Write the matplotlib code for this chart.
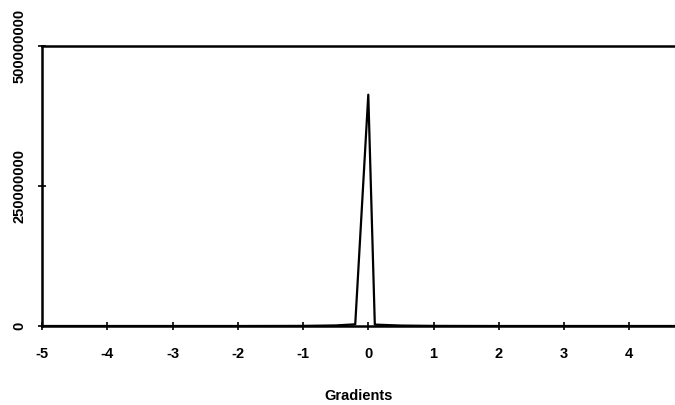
import matplotlib
matplotlib.use('Agg')
import matplotlib.pyplot as plt

plt.rcParams['font.family'] = ['Liberation Sans', 'DejaVu Sans']

# gradient histogram
gradients = [-5, -4, -3, -2, -1, -0.5, -0.2, 0, 0.1, 0.5, 1, 2, 3, 4, 4.7]
counts = [0, 0, 0, 0, 2e5, 1e6, 3e6, 4.13e8, 2.5e6, 8e5, 2e5, 0, 0, 0, 0]
xticks = [-5, -4, -3, -2, -1, 0, 1, 2, 3, 4]
yticks = [0, 250000000, 500000000]

fig = plt.figure(figsize=(6.75, 4.05), dpi=100)
ax = fig.add_axes([42 / 675, 79 / 405, 1 - 42 / 675, 280 / 405])

ax.plot(gradients, counts, color='black', lw=1.6)

ax.set_xlim(-5, 4.7)
ax.set_ylim(0, 500000000)
ax.set_xticks(xticks)
ax.set_xticklabels([str(t) for t in xticks])
ax.set_yticks(yticks)
ax.set_yticklabels([str(t) for t in yticks], rotation=90, va='center')

for lbl in ax.get_xticklabels() + ax.get_yticklabels():
    lbl.set_fontweight('bold')
    lbl.set_fontsize(10.5)

ax.tick_params(direction='inout', length=6, width=1.2)
ax.tick_params(axis='x', pad=12)
ax.tick_params(axis='y', pad=8)
ax.spines['right'].set_visible(False)
for s in ['left', 'bottom', 'top']:
    ax.spines[s].set_linewidth(1.8)

ax.set_xlabel('Gradients', fontsize=10.5, fontweight='bold', labelpad=20)

fig.savefig('out.png', dpi=100)
